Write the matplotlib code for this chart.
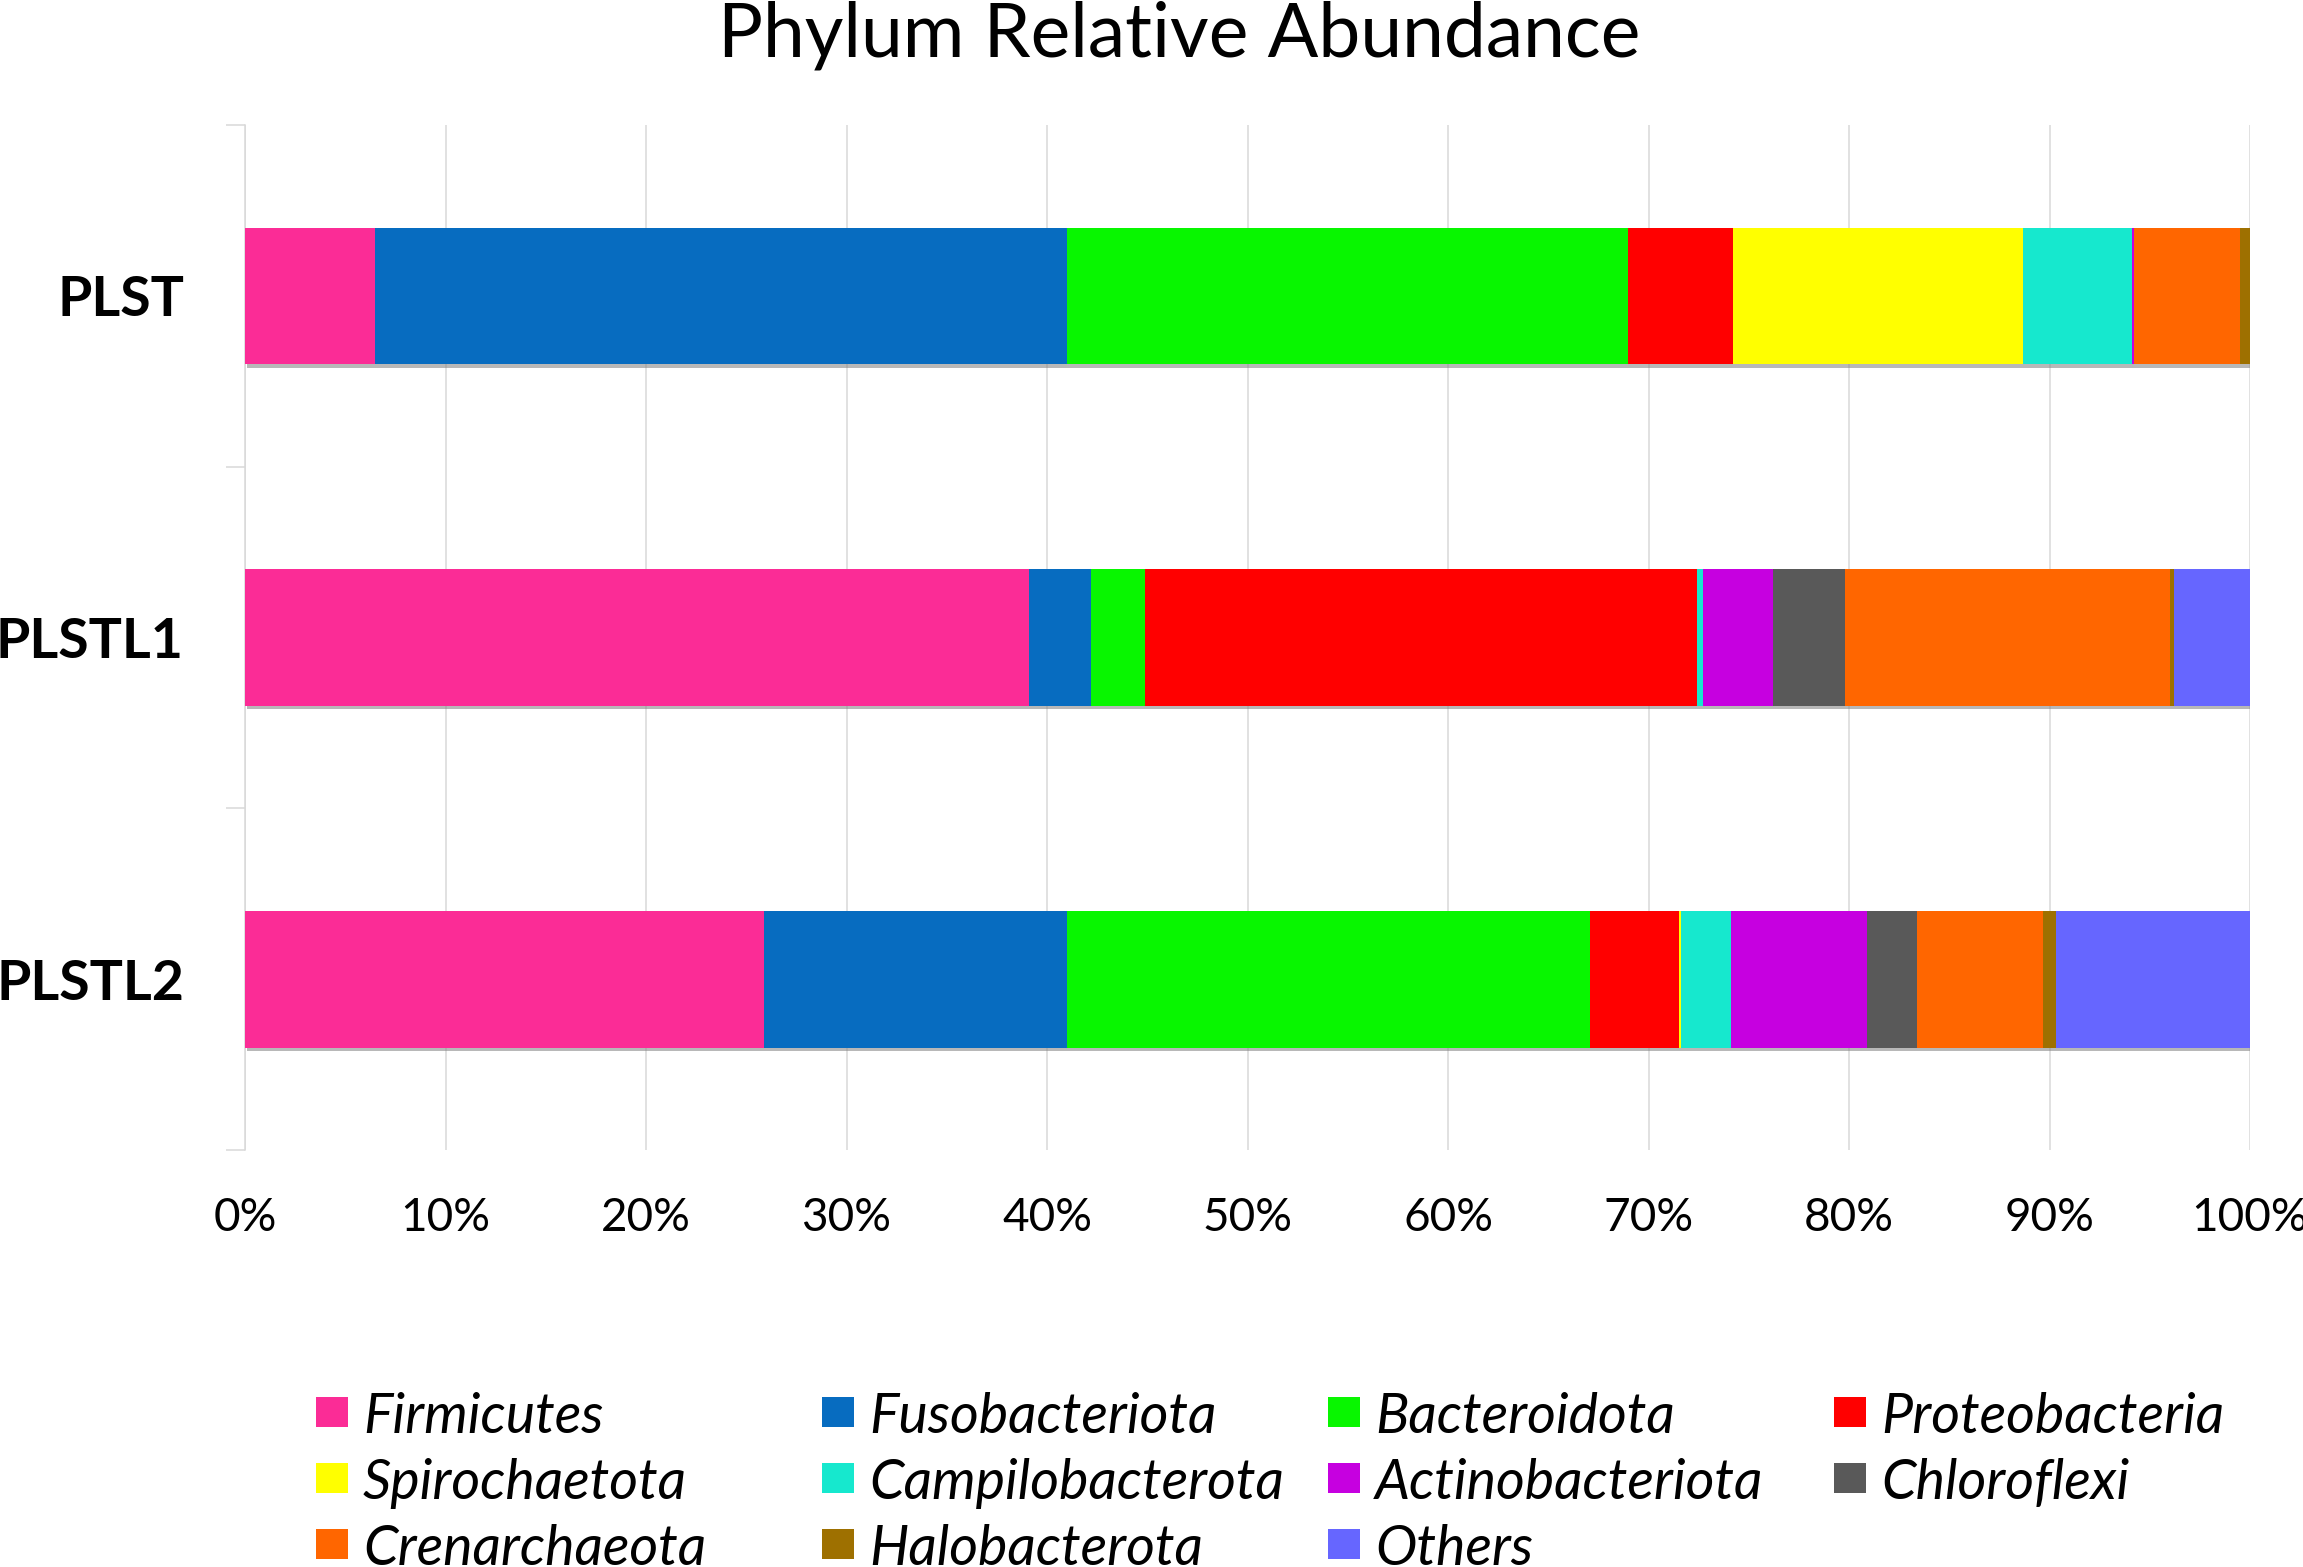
import matplotlib
matplotlib.use('Agg')
import matplotlib.pyplot as plt
import matplotlib.patheffects as pe
from matplotlib.patches import Rectangle
import numpy as np

# dados (percentual por filo)
amostras = ['PLST', 'PLSTL1', 'PLSTL2']
filos = ['Firmicutes', 'Fusobacteriota', 'Bacteroidota', 'Proteobacteria',
         'Spirochaetota', 'Campilobacterota', 'Actinobacteriota', 'Chloroflexi',
         'Crenarchaeota', 'Halobacterota', 'Others']
firmicutes = [6.5, 39.1, 25.9]
fusobacteriota = [34.5, 3.1, 15.1]
bacteroidota = [28.0, 2.7, 26.1]
proteobacteria = [5.2, 27.5, 4.4]
spirochaetota = [14.5, 0.0, 0.1]
campilobacterota = [5.4, 0.3, 2.5]
actinobacteriota = [0.1, 3.5, 6.8]
chloroflexi = [0.0, 3.6, 2.5]
crenarchaeota = [5.3, 16.2, 6.3]
halobacterota = [0.5, 0.2, 0.6]
others = [0.0, 3.8, 9.7]
cores = ['#FB2C96', '#076CC0', '#08F600', '#FF0000', '#FFFF00', '#16E8CE',
         '#C600E0', '#595959', '#FF6600', '#9E7000', '#6666FF']
marcas_x = ['0%', '10%', '20%', '30%', '40%', '50%', '60%', '70%', '80%', '90%', '100%']

valores = [firmicutes, fusobacteriota, bacteroidota, proteobacteria, spirochaetota,
           campilobacterota, actinobacteriota, chloroflexi, crenarchaeota,
           halobacterota, others]

plt.rcParams['font.family'] = ['Lato', 'DejaVu Sans']

W, H = 2303, 1567
fig = plt.figure(figsize=(W / 100, H / 100), dpi=100)
ax = fig.add_axes([245 / W, 1 - 1150 / H, (2250 - 245) / W, (1150 - 125) / H])

y = np.arange(len(amostras))
inicio = np.zeros(len(amostras))
sombra = [pe.SimplePatchShadow(offset=(1.2, -2.5), shadow_rgbFace='#7f7f7f', alpha=0.55), pe.Normal()]
for nome, serie, cor in zip(filos, valores, cores):
    serie = np.array(serie)
    ax.barh(y, serie, left=inicio, height=0.4, color=cor, linewidth=0,
            label=nome, zorder=3, path_effects=sombra)
    inicio += serie

ax.set_xlim(0, 100)
ax.set_ylim(2.5, -0.5)
ax.set_xticks(np.arange(0, 101, 10))
ax.set_xticklabels(marcas_x, fontsize=33)
ax.tick_params(axis='x', length=0, pad=34, colors='black')
ax.grid(axis='x', color='#d9d9d9', linewidth=1.1, zorder=0)

# rotulos das amostras nos centros, tracos nas divisoes
ax.set_yticks([-0.5, 0.5, 1.5, 2.5])
ax.set_yticklabels([])
ax.set_yticks(y, minor=True)
ax.set_yticklabels(amostras, minor=True, fontsize=40, fontweight='bold')
ax.tick_params(axis='y', which='major', length=14, width=1.1, color='#d9d9d9')
ax.tick_params(axis='y', which='minor', length=0, pad=44)

for lado in ['top', 'right', 'bottom']:
    ax.spines[lado].set_visible(False)
ax.spines['left'].set_color('#d9d9d9')
ax.spines['left'].set_linewidth(1.1)

fig.text(1179 / W, 1 - 56 / H, 'Phylum Relative Abundance', fontsize=54,
         ha='center', va='baseline')

# legenda em 4 colunas de largura fixa
for i, (nome, cor) in enumerate(zip(filos, cores)):
    linha, coluna = divmod(i, 4)
    base = 1433 + linha * 66
    x0 = 316 + coluna * 506
    fig.add_artist(Rectangle((x0 / W, 1 - (base - 6) / H), 32 / W, 30 / H,
                             transform=fig.transFigure, facecolor=cor, edgecolor='none'))
    fig.text((x0 + 47) / W, 1 - base / H, nome, fontsize=40, style='italic',
             ha='left', va='baseline')

plt.savefig('out.png', dpi=100)
